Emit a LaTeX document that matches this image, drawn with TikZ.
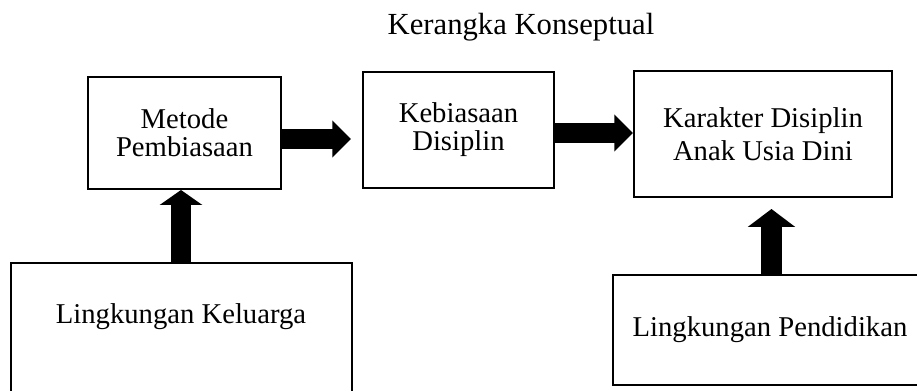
\documentclass[tikz,border=0pt]{standalone}
\usepackage{fontspec}
\setmainfont{Liberation Serif}
\usetikzlibrary{arrows.meta}

\tikzset{every picture/.style={line width=0.75pt}}
\tikzset{
  kotak/.style={draw, line width=1.5pt, align=center, inner sep=0pt,
    font=\fontsize{21.5}{21}\selectfont},
  teks/.style={inner sep=0pt, align=center, font=\fontsize{21.5}{21}\selectfont},
  panah/.style={line width=15.5pt,
    -{Triangle[width=27pt,length=14pt]}},
}

\begin{document}
\begin{tikzpicture}[x=0.75pt,y=0.75pt,yscale=-1,xscale=1]
\useasboundingbox (0,0) rectangle (917,391);
\clip (0,0) rectangle (917,391);

% Text Node
\node[teks, font=\fontsize{23}{23}\selectfont] (judul) at (521,27) {Kerangka Konseptual};

%Shape: Rectangle [id:metode]
\node[kotak, minimum width=144.75pt, minimum height=84pt] (metode) at (184.5,133) {Metode\\Pembiasaan};
%Shape: Rectangle [id:kebiasaan]
\node[kotak, minimum width=143.25pt, minimum height=87pt] (kebiasaan) at (458.5,130) {Kebiasaan\\Disiplin};
%Shape: Rectangle [id:karakter]
\node[kotak, minimum width=193.5pt, minimum height=94.5pt] (karakter) at (763,134) {Karakter Disiplin\\[3.75pt]Anak Usia Dini};
%Shape: Rectangle [id:keluarga]
\node[kotak, minimum width=255.75pt, minimum height=112.5pt] (keluarga) at (181.5,338) {};
% Text Node
\node[teks] (teksKeluarga) at (181,317) {Lingkungan Keluarga};
%Shape: Rectangle [id:pendidikan]
\node[kotak, minimum width=235.5pt, minimum height=82.5pt] (pendidikan) at (770,330) {Lingkungan Pendidikan};

%Right Arrow
\coordinate (a1) at ([yshift=4.5pt]metode.east);
\draw[panah, shorten >=8.25pt] (a1) -- (a1 -| kebiasaan.west);
%Right Arrow
\coordinate (a2) at ([yshift=2.25pt]kebiasaan.east);
\draw[panah] (a2) -- (a2 -| karakter.west);
%Up Arrow
\draw[panah, -{Triangle[width=31.5pt,length=11.25pt]}] (keluarga.north -| teksKeluarga) -- (teksKeluarga |- metode.south);
%Up Arrow
\coordinate (a4) at ([xshift=1.1pt]pendidikan.north);
\draw[panah, -{Triangle[width=35pt,length=13.5pt]}, shorten >=8.25pt] (a4) -- (a4 |- karakter.south);

\end{tikzpicture}
\end{document}
